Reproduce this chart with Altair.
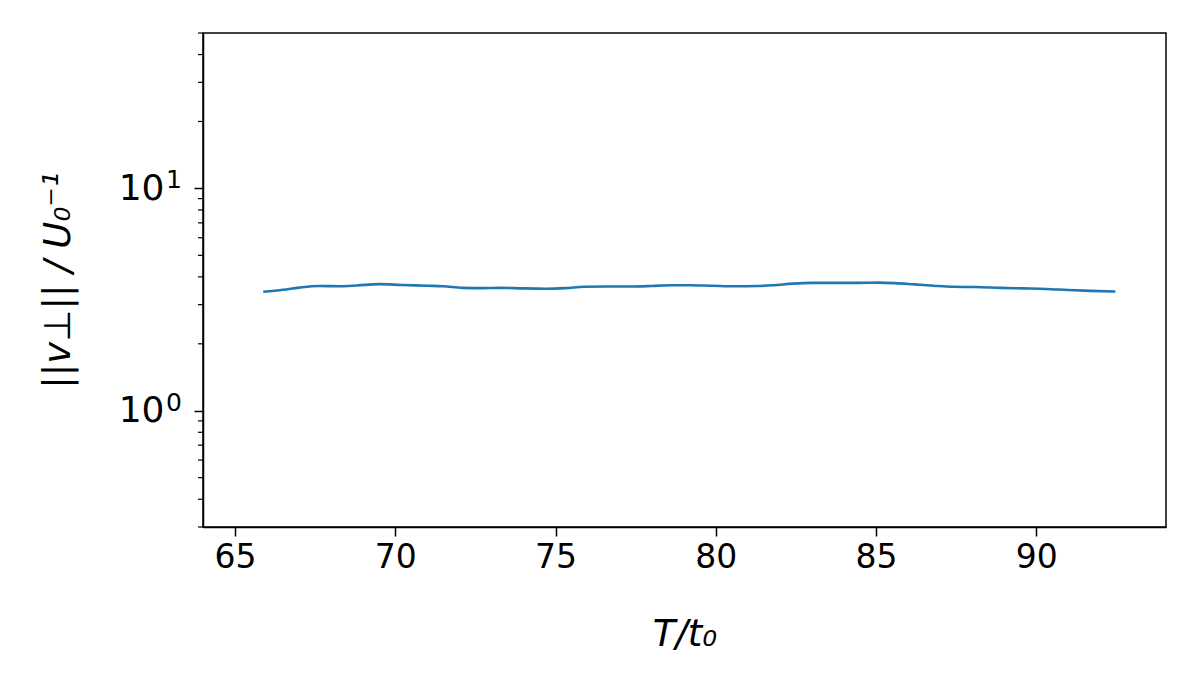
import altair as alt
import pandas as pd

# data
t_values = [65.88, 66.5, 67.0, 67.6, 68.3, 68.8, 69.5, 70.2, 71.0, 71.5, 72.1, 72.7,
            73.3, 74.0, 74.7, 75.3, 75.9, 76.6, 77.4, 78.0, 78.6, 79.2, 79.9, 80.6,
            81.3, 81.8, 82.4, 83.0, 83.7, 84.4, 85.1, 85.6, 86.2, 86.8, 87.4, 88.1,
            88.9, 89.6, 90.3, 91.0, 91.7, 92.47]
v_values = [3.43, 3.50, 3.58, 3.64, 3.63, 3.66, 3.71, 3.68, 3.65, 3.63, 3.57, 3.56,
            3.57, 3.55, 3.54, 3.56, 3.61, 3.62, 3.62, 3.64, 3.67, 3.67, 3.65, 3.63,
            3.64, 3.67, 3.73, 3.76, 3.76, 3.76, 3.77, 3.75, 3.70, 3.65, 3.61, 3.60,
            3.57, 3.55, 3.53, 3.49, 3.46, 3.44]
x_ticks = [65, 70, 75, 80, 85, 90]
y_major = [1, 10]
y_exponents = ["0", "1"]
y_minor = [0.3, 0.4, 0.5, 0.6, 0.7, 0.8, 0.9, 2, 3, 4, 5, 6, 7, 8, 9, 20, 30, 40, 50]

x_domain = [64.0, 94.05]
y_domain = [0.3, 50]

df = pd.DataFrame({"T": t_values, "v": v_values})
minor_df = pd.DataFrame({"m": y_minor})
exp_df = pd.DataFrame({"val": y_major, "exp": y_exponents})

FONT = "DejaVu Sans"

xscale = alt.Scale(domain=x_domain, nice=False, zero=False)
yscale = alt.Scale(type="log", domain=y_domain, nice=False)

line = alt.Chart(df).mark_line(color="#1f77b4", strokeWidth=2.6, interpolate="monotone").encode(
    x=alt.X("T:Q", scale=xscale,
            axis=alt.Axis(values=x_ticks, grid=False, title="T/t₀", titleFont=FONT,
                          titleFontSize=37, titleFontWeight="normal", titleFontStyle="italic",
                          titleColor="black", titleY=118, titleBaseline="alphabetic",
                          labelFont=FONT, labelFontSize=33, labelColor="black",
                          labelPadding=5, tickSize=9, tickWidth=1.5, tickColor="black",
                          domainColor="black", domainWidth=1.5, format="d")),
    y=alt.Y("v:Q", scale=yscale,
            axis=alt.Axis(values=y_major, grid=False, title="||v⊥|| / U₀⁻¹",
                          titleFont=FONT, titleFontSize=37, titleFontWeight="normal",
                          titleFontStyle="italic",
                          titleColor="black", titleAngle=-90, titleAlign="center",
                          titleBaseline="middle", titleX=-145, titleY=247,
                          labelFont=FONT, labelFontSize=36, labelColor="black",
                          labelPadding=30, tickSize=9, tickWidth=1.5, tickColor="black",
                          domainColor="black", domainWidth=1.5,
                          labelExpr="'10'")),
)

exps = alt.Chart(exp_df).mark_text(font=FONT, fontSize=25, color="black", align="left",
                                   baseline="alphabetic", dy=0, clip=False).encode(
    y=alt.Y("val:Q", scale=yscale),
    x=alt.value(-37),
    text="exp:N",
)

minor = alt.Chart(minor_df).mark_rule(color="black", strokeWidth=1.2, clip=False).encode(
    y=alt.Y("m:Q", scale=yscale),
    x=alt.value(-5),
    x2=alt.value(0),
)

chart = alt.layer(line, minor, exps).properties(
    width=963, height=494,
    background="white",
    autosize=alt.AutoSizeParams(type="none"),
    padding={"left": 195, "top": 25, "right": 22, "bottom": 140},
).configure_view(stroke="black", strokeWidth=1.5)

chart.save("out.html", embed_options={"renderer": "svg", "actions": False})
